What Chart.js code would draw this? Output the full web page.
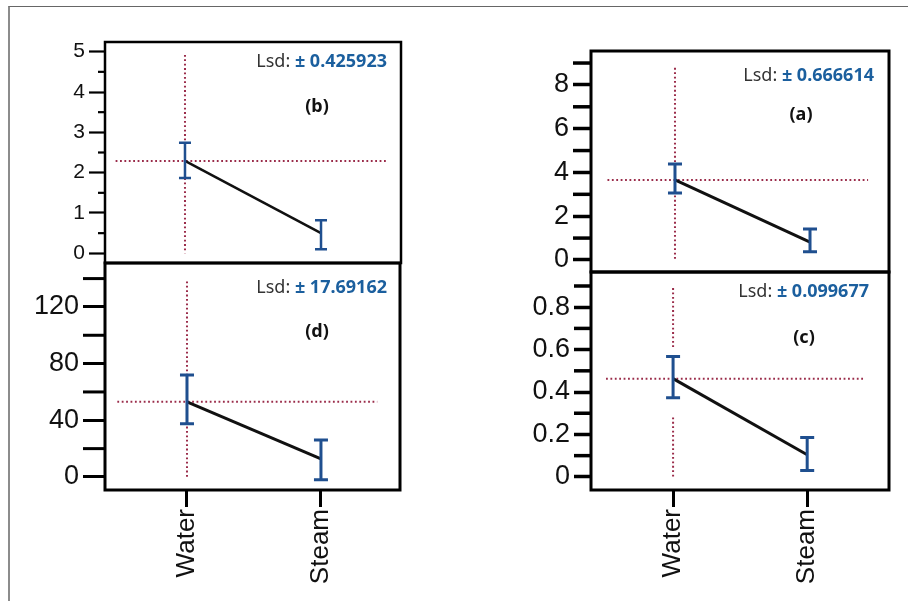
<!DOCTYPE html>
<html>
<head>
<meta charset="utf-8">
<script src="https://cdn.jsdelivr.net/npm/chart.js@4.4.1/dist/chart.umd.min.js"></script>
<style>
    body { margin: 0; background: #fff; width: 908px; height: 601px; overflow: hidden; position: relative; }
    canvas { position: absolute; left: 0; top: 0; }
    #frame { position: absolute; left: 8px; top: 6px; width: 910px; height: 610px;
             border-left: 2px solid #8c8c8c; border-top: 1px solid #666; }
</style>
</head>
<body>
<div id="frame"></div>
<canvas id="chartB" width="908" height="601"></canvas>
<canvas id="chartD" width="908" height="601"></canvas>
<canvas id="chartA" width="908" height="601"></canvas>
<canvas id="chartC" width="908" height="601"></canvas>
<script>
// Chart data
const categories = ['Water', 'Steam'];

// (a)
const aMeans = [3.66, 0.82];
const aUpper = [4.39, 1.42];
const aLower = [3.06, 0.37];
const aVLine = [8.78, 0];
const aLsd = '0.666614';
const aTicks = [0, 2, 4, 6, 8];
const aTickLabels = ['0', '2', '4', '6', '8'];
const aMinor = [1, 3, 5, 7, 9];

// (b)
const bMeans = [2.29, 0.5];
const bUpper = [2.74, 0.82];
const bLower = [1.87, 0.1];
const bVLine = [4.92, 0];
const bLsd = '0.425923';
const bTicks = [0, 1, 2, 3, 4, 5];
const bTickLabels = ['0', '1', '2', '3', '4', '5'];
const bMinor = [0.5, 1.5, 2.5, 3.5, 4.5];

// (c)
const cMeans = [0.463, 0.104];
const cUpper = [0.567, 0.185];
const cLower = [0.373, 0.03];
const cVLine = [0.89, 0.6, null, 0.28, 0];
const cLsd = '0.099677';
const cTicks = [0, 0.2, 0.4, 0.6, 0.8];
const cTickLabels = ['0', '0.2', '0.4', '0.6', '0.8'];
const cMinor = [0.1, 0.3, 0.5, 0.7, 0.9];

// (d)
const dMeans = [53, 12.8];
const dUpper = [72, 26];
const dLower = [37.6, -2];
const dVLine = [138, 0];
const dLsd = '17.69162';
const dTicks = [0, 40, 80, 120];
const dTickLabels = ['0', '40', '80', '120'];
const dMinor = [20, 60, 100, 140];

const DOT_COLOR = '#9a2c4a';
const BAR_COLOR = '#1f4f8f';
const LSD_COLOR = '#1b5f9e';
const AXIS_FONT = '"Liberation Sans", Arial, sans-serif';
const TEXT_FONT = '"Noto Sans", sans-serif';

// Layout / style of each panel
const panels = [
    { id: 'chartB', tag: '(b)', lsd: bLsd, means: bMeans, upper: bUpper, lower: bLower, vLine: bVLine,
      ticks: bTicks, tickLabels: bTickLabels, minor: bMinor,
      box: { left: 105, top: 42, right: 401, bottom: 263 }, xRange: [-0.588, 1.588], yRange: [-0.24, 5.24],
      hRange: [-0.51, 1.49], font: 21, tickLen: 16, minorLen: 7, tickWidth: 2.2, boxWidth: 2.5, lineWidth: 2.5,
      capHalf: 6, lsdOff: [14, 20], tagOff: [84, 65], showX: false },
    { id: 'chartD', tag: '(d)', lsd: dLsd, means: dMeans, upper: dUpper, lower: dLower, vLine: dVLine,
      ticks: dTicks, tickLabels: dTickLabels, minor: dMinor,
      box: { left: 105, top: 263, right: 400, bottom: 490 }, xRange: [-0.612, 1.59], yRange: [-9.2, 151],
      hRange: [-0.52, 1.42], font: 27, tickLen: 22, minorLen: 22, tickWidth: 3, boxWidth: 3, lineWidth: 3,
      capHalf: 7, lsdOff: [13, 25], tagOff: [83, 69], showX: true },
    { id: 'chartA', tag: '(a)', lsd: aLsd, means: aMeans, upper: aUpper, lower: aLower, vLine: aVLine,
      ticks: aTicks, tickLabels: aTickLabels, minor: aMinor,
      box: { left: 591, top: 51, right: 889, bottom: 272 }, xRange: [-0.622, 1.585], yRange: [-0.55, 9.55],
      hRange: [-0.5, 1.43], font: 27, tickLen: 18, minorLen: 18, tickWidth: 3.5, boxWidth: 3, lineWidth: 3,
      capHalf: 7, lsdOff: [15, 25], tagOff: [88, 64], showX: false },
    { id: 'chartC', tag: '(c)', lsd: cLsd, means: cMeans, upper: cUpper, lower: cLower, vLine: cVLine,
      ticks: cTicks, tickLabels: cTickLabels, minor: cMinor,
      box: { left: 591, top: 272, right: 889, bottom: 490 }, xRange: [-0.612, 1.61], yRange: [-0.062, 0.966],
      hRange: [-0.5, 1.43], font: 27, tickLen: 17, minorLen: 17, tickWidth: 3.5, boxWidth: 3, lineWidth: 3,
      capHalf: 7, lsdOff: [20, 20], tagOff: [85, 66], showX: true }
];

// Box, minor ticks, error bars and the Lsd / panel labels
const panelPlugin = {
    id: 'panelDecor',
    afterDatasetsDraw(chart) {
        const p = chart.options.plugins.panelDecor;
        const { ctx, scales } = chart;
        ctx.save();
        ctx.strokeStyle = BAR_COLOR;
        ctx.lineWidth = p.lineWidth;
        p.means.forEach((m, i) => {
            const x = scales.x.getPixelForValue(i);
            const yt = scales.y.getPixelForValue(p.upper[i]);
            const yb = scales.y.getPixelForValue(p.lower[i]);
            ctx.beginPath();
            ctx.moveTo(x, yt); ctx.lineTo(x, yb);
            ctx.moveTo(x - p.capHalf, yt); ctx.lineTo(x + p.capHalf, yt);
            ctx.moveTo(x - p.capHalf, yb); ctx.lineTo(x + p.capHalf, yb);
            ctx.stroke();
        });
        ctx.restore();
    },
    afterDraw(chart) {
        const p = chart.options.plugins.panelDecor;
        const { ctx, chartArea, scales } = chart;
        ctx.save();
        // minor ticks
        ctx.strokeStyle = '#000';
        ctx.lineWidth = p.tickWidth;
        p.minor.forEach(v => {
            const y = scales.y.getPixelForValue(v);
            ctx.beginPath();
            ctx.moveTo(chartArea.left - p.minorLen, y);
            ctx.lineTo(chartArea.left, y);
            ctx.stroke();
        });
        // frame of the panel
        ctx.lineWidth = p.boxWidth;
        ctx.strokeRect(chartArea.left, chartArea.top, chartArea.right - chartArea.left, chartArea.bottom - chartArea.top);

        // Lsd text
        const lsdA = 'Lsd: ';
        const lsdB = '\u00b1 ' + p.lsd;
        ctx.textBaseline = 'middle';
        ctx.textAlign = 'left';
        ctx.font = '18px ' + TEXT_FONT;
        const wA = ctx.measureText(lsdA).width;
        ctx.font = 'bold 18px ' + TEXT_FONT;
        const wB = ctx.measureText(lsdB).width;
        const x0 = chartArea.right - p.lsdOff[0] - wA - wB;
        const yL = chartArea.top + p.lsdOff[1];
        ctx.font = '18px ' + TEXT_FONT;
        ctx.fillStyle = '#333';
        ctx.fillText(lsdA, x0, yL);
        ctx.font = 'bold 18px ' + TEXT_FONT;
        ctx.fillStyle = LSD_COLOR;
        ctx.fillText(lsdB, x0 + wA, yL);

        // panel tag
        ctx.textAlign = 'center';
        ctx.fillStyle = '#111';
        ctx.font = 'bold 18px ' + TEXT_FONT;
        ctx.fillText(p.tag, chartArea.right - p.tagOff[0], chartArea.top + p.tagOff[1]);
        ctx.restore();
    }
};

function buildChart(p) {
    const yw = 90;
    const xh = 100;
    const el = document.getElementById(p.id);
    return new Chart(el, {
        type: 'line',
        data: {
            datasets: [
                {
                    data: p.means.map((v, i) => ({ x: i, y: v })),
                    borderColor: '#111',
                    borderWidth: p.lineWidth,
                    pointRadius: 0
                },
                {
                    data: [{ x: p.hRange[0], y: p.means[0] }, { x: p.hRange[1], y: p.means[0] }],
                    borderColor: DOT_COLOR,
                    borderWidth: 2,
                    borderDash: [1.8, 2.6],
                    pointRadius: 0
                },
                {
                    data: p.vLine.map(v => ({ x: 0, y: v })),
                    borderColor: DOT_COLOR,
                    borderWidth: 2,
                    borderDash: [1.8, 2.6],
                    pointRadius: 0,
                    spanGaps: false
                }
            ]
        },
        options: {
            responsive: false,
            animation: false,
            devicePixelRatio: 1,
            events: [],
            layout: {
                padding: {
                    left: p.box.left - yw,
                    top: p.box.top,
                    right: 908 - p.box.right,
                    bottom: p.showX ? 601 - p.box.bottom - xh : 601 - p.box.bottom
                }
            },
            plugins: {
                legend: { display: false },
                tooltip: { enabled: false },
                panelDecor: p
            },
            scales: {
                x: {
                    type: 'linear',
                    display: p.showX,
                    min: p.xRange[0],
                    max: p.xRange[1],
                    afterFit: s => { if (p.showX) s.height = xh; },
                    afterBuildTicks: s => { s.ticks = categories.map((c, i) => ({ value: i })); },
                    ticks: {
                        callback: v => categories[v],
                        minRotation: 90,
                        maxRotation: 90,
                        autoSkip: false,
                        padding: 2,
                        color: '#111',
                        font: { family: AXIS_FONT, size: 26 }
                    },
                    grid: { drawOnChartArea: false, tickLength: 17, tickWidth: 3, tickColor: '#000' },
                    border: { display: false }
                },
                y: {
                    type: 'linear',
                    min: p.yRange[0],
                    max: p.yRange[1],
                    afterFit: s => { s.width = yw; },
                    afterBuildTicks: s => { s.ticks = p.ticks.map(v => ({ value: v })); },
                    ticks: {
                        callback: v => p.tickLabels[p.ticks.indexOf(v)],
                        padding: 4,
                        color: '#111',
                        font: { family: AXIS_FONT, size: p.font }
                    },
                    grid: { drawOnChartArea: false, tickLength: p.tickLen, tickWidth: p.tickWidth, tickColor: '#000' },
                    border: { display: false }
                }
            }
        },
        plugins: [panelPlugin]
    });
}

panels.forEach(buildChart);
</script>
</body>
</html>
